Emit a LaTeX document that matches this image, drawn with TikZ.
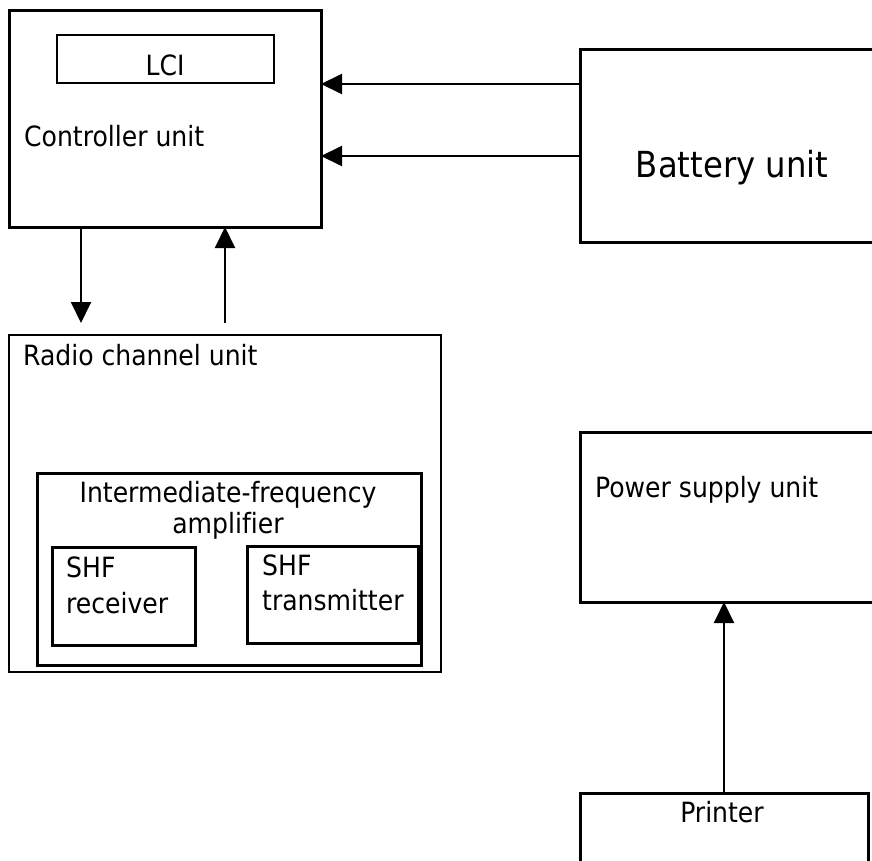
\documentclass[tikz,border=0pt]{standalone}
\usepackage{fontspec}
\setmainfont[Ligatures=NoCommon]{DejaVu Sans Condensed}
\usepackage{tikz}
\usetikzlibrary{arrows.meta}

\begin{document}
\begin{tikzpicture}[
  x=1bp,y=-1bp,
  line join=miter,
  box/.style={draw=black,line width=3bp,anchor=north west,inner sep=0pt,outer sep=0pt},
  thinbox/.style={box,line width=2.4bp},
  conn/.style={draw=black,line width=2bp,-{Triangle[length=21bp,width=20bp]}},
  lbl/.style={font=\fontsize{28}{34}\selectfont,inner sep=0pt,anchor=base west},
  clbl/.style={lbl,anchor=base}
]
  \clip (0,0) rectangle (872,861);
  \fill[white] (0,0) rectangle (872,861);

  % Boxes
  \node[box,minimum width=312bp,minimum height=217bp] (ctrl) at (9,10) {};
  \node[thinbox,minimum width=217bp,minimum height=48bp] (lci) at (57,35) {};
  \node[box,minimum width=330bp,minimum height=193bp] (batt) at (580,49) {};
  \node[thinbox,minimum width=432bp,minimum height=337bp] (radio) at (9,335) {};
  \node[box,minimum width=384bp,minimum height=192bp] (ifamp) at (37,473) {};
  \node[box,minimum width=143bp,minimum height=98bp] (rx) at (52,547) {};
  \node[box,minimum width=171bp,minimum height=97bp] (tx) at (247,546) {};
  \node[box,minimum width=330bp,minimum height=170bp] (psu) at (580,432) {};
  \node[box,minimum width=288bp,minimum height=120bp] (prn) at (580,793) {};

  % Arrow ends
  \coordinate (b1) at (0,84);
  \coordinate (b2) at (0,156);
  \coordinate (dn) at (81,0);
  \coordinate (up) at (225,0);
  \coordinate (pw) at (724,0);

  % Connectors
  \draw[conn] (batt.west |- b1) -- (ctrl.east |- b1);
  \draw[conn] (batt.west |- b2) -- (ctrl.east |- b2);
  \draw[conn] (ctrl.south -| dn) -- ([yshift=12bp]radio.north -| dn);
  \draw[conn] ([yshift=12bp]radio.north -| up) -- (ctrl.south -| up);
  \draw[conn] (prn.north -| pw) -- (psu.south -| pw);

  % Labels
  \node[clbl] (lcit) at (165,75) {LCI};
  \node[lbl] (ctrlt) at (24,146) {Controller unit};
  \node[clbl,font=\fontsize{36}{42}\selectfont] (battt) at (732,177) {Battery unit};
  \node[lbl] (radiot) at (23,365) {Radio channel unit};
  \node[clbl] (ift1) at (228,502) {Intermediate-frequency};
  \node[clbl] (ift2) at (228,533) {amplifier};
  \node[lbl] (rxt1) at (66,577) {SHF};
  \node[lbl] (rxt2) at (66,613) {receiver};
  \node[lbl] (txt1) at (262,575) {SHF};
  \node[lbl] (txt2) at (262,610) {transmitter};
  \node[lbl] (psut) at (595,497) {Power supply unit};
  \node[clbl] (prnt) at (722,822) {Printer};
\end{tikzpicture}
\end{document}
